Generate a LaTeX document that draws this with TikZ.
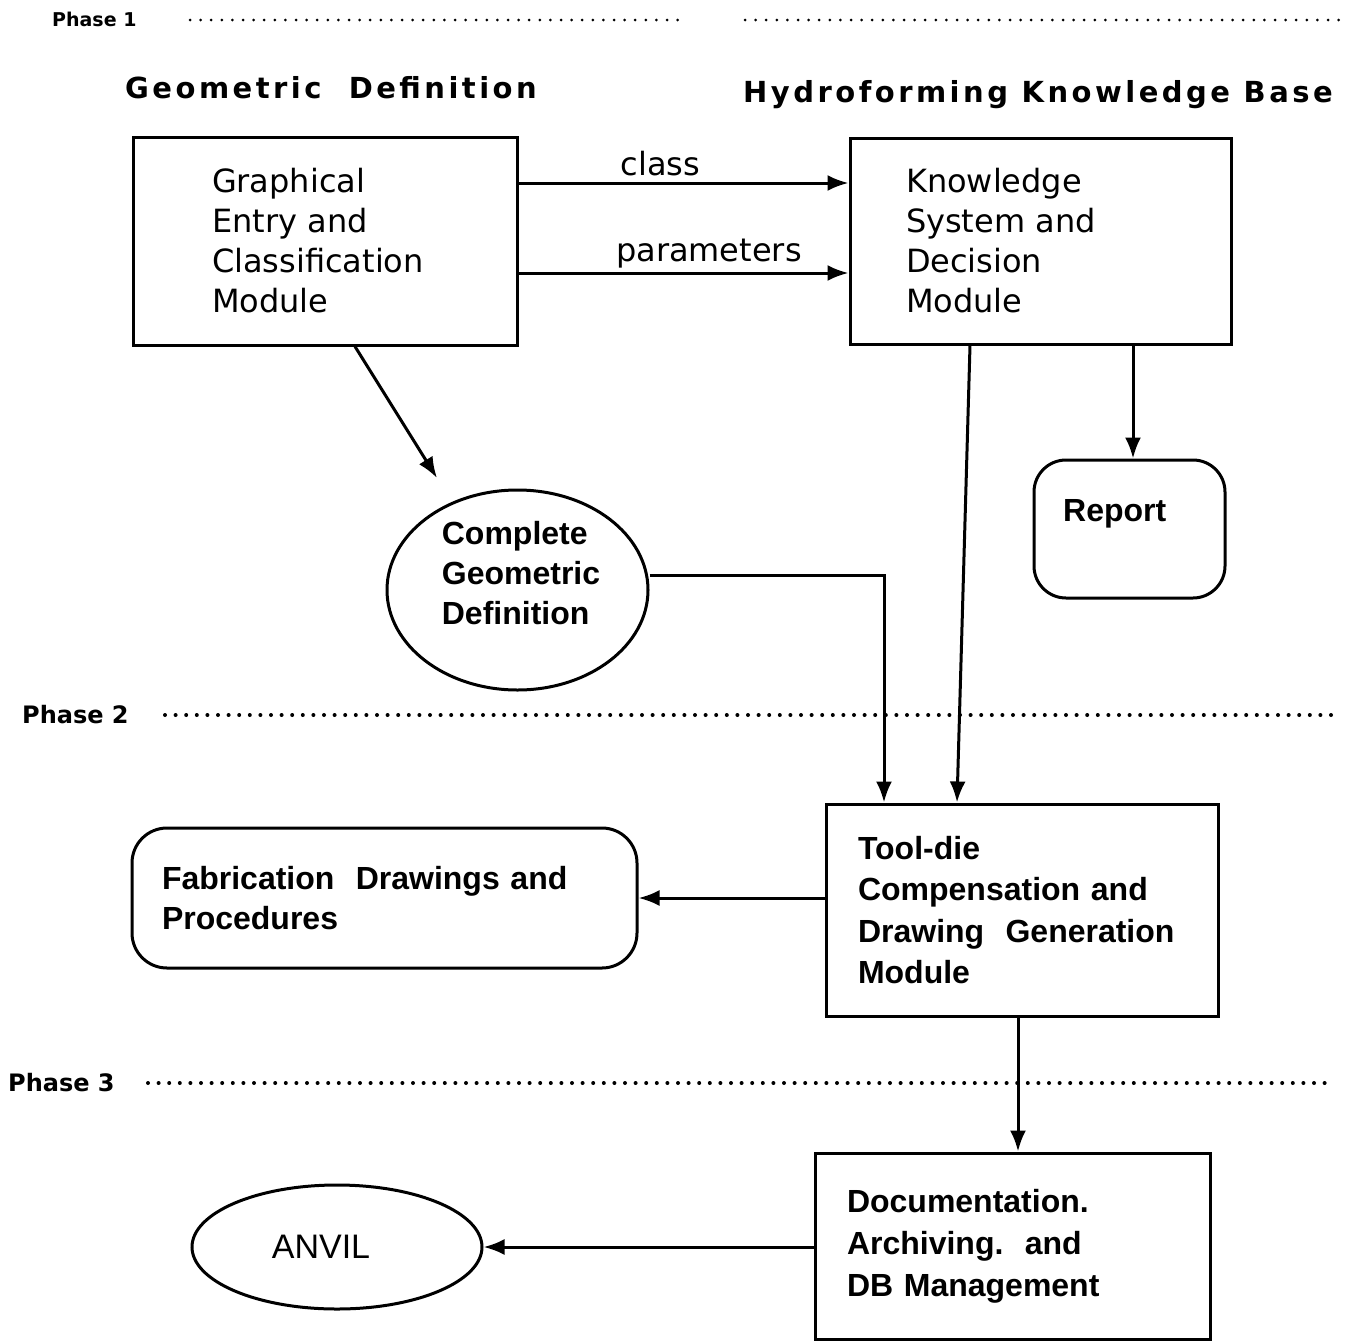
\documentclass[tikz,border=0pt]{standalone}
\usepackage{fontspec}
\setmainfont{Liberation Sans}
\newfontfamily\djv{DejaVu Sans}
\newfontfamily\hdrfont[LetterSpace=12]{DejaVu Sans}
\usetikzlibrary{arrows.meta,shapes.geometric}
\tikzset{
  box/.style={draw, line width=3pt, rectangle, align=left},
  rbox/.style={box, rounded corners=32pt},
  upfont/.style={font=\djv\fontsize{32}{40}\selectfont},
  lowfont/.style={font=\bfseries\fontsize{32}{41.5}\selectfont},
  arr/.style={line width=3pt, -{Latex[length=21pt,width=16pt]}},
  dots/.style={line width=4pt, line cap=round, dash pattern=on 0pt off 10.6pt},
  phase/.style={font=\djv\bfseries\fontsize{24}{24}\selectfont, anchor=base west, inner sep=0pt},
  hdr/.style={font=\hdrfont\bfseries\fontsize{29}{29}\selectfont, anchor=base west, inner sep=0pt},
}
\begin{document}
\begin{tikzpicture}[x=1pt,y=-1pt]
\useasboundingbox (0,0) rectangle (1352,1341);

% phase labels and dotted separators
\node[phase, font=\djv\bfseries\fontsize{19}{19}\selectfont] (p1) at (52,27) {Phase 1};
\node[phase] (p2) at (22,723) {Phase 2};
\node[phase] (p3) at (8,1091) {Phase 3};
\draw[dots, line width=3pt] (190,20) -- (688,20);
\draw[dots, line width=3pt] (745,20) -- (1348,20);
\draw[dots] (165,715) -- (1335,715);
\draw[dots] (148,1083) -- (1325,1083);

% headers
\node[hdr] (h1) at (125,98) {Geometric\ \ Definition};
\node[hdr] (h2) at (743,102) {Hydroforming\ Knowledge\ Base};

% boxes
\node[box, upfont, minimum width=384pt, minimum height=208pt, text width=226pt, inner xsep=79pt] (ge) at (325,241)
  {Graphical\\Entry and\\Classification\\Module};
\node[box, upfont, minimum width=381pt, minimum height=206pt, text width=269pt, inner xsep=56pt] (ks) at (1040.5,241)
  {Knowledge\\System and\\Decision\\Module};
\node[rbox, minimum width=191pt, minimum height=138pt] (report) at (1129.5,529) {};
\node[lowfont, anchor=base west, inner sep=0pt] (reporttxt) at (1063,521) {Report};

\node[draw, ellipse, line width=3pt, minimum width=261pt, minimum height=200pt] (circ) at (517.5,590) {};
\node[lowfont, font=\bfseries\fontsize{32}{40}\selectfont, align=left, inner sep=0pt] (circtxt) at (521,573)
  {Complete\\Geometric\\Definition};

\node[box, lowfont, minimum width=392pt, minimum height=212pt, text width=328pt, inner xsep=32pt] (td) at (1022,910)
  {Tool-die\\Compensation and\\Drawing\ \ Generation\\Module};
\node[rbox, rounded corners=35pt, font=\bfseries\fontsize{32}{40}\selectfont, minimum width=505pt, minimum height=140pt, text width=445pt, inner xsep=30pt] (fab) at (384.5,898)
  {Fabrication\ \ Drawings and\\Procedures};
\node[box, font=\bfseries\fontsize{32}{42}\selectfont, minimum width=395pt, minimum height=186pt, text width=331pt, inner xsep=32pt] (doc) at (1012.5,1246)
  {Documentation.\\Archiving.\ \ and\\DB Management};
\node[draw, ellipse, line width=3pt, minimum width=290pt, minimum height=124pt, font=\fontsize{34}{34}\selectfont] (anvil) at (337,1247) {ANVIL\hspace*{32pt}};

% helper coordinates
\coordinate (c1) at (355,0);
\coordinate (c2) at (970,0);
\coordinate (c3) at (957,0);
\coordinate (c4) at (1133,0);
\coordinate (c5) at (884,0);
\coordinate (c6) at (1018,0);
\coordinate (k1) at (0,183);
\coordinate (k2) at (0,273);
\coordinate (tip) at (437,478);

% connectors
\draw[arr] (ge.east |- k1) -- node[pos=0.43, above=2pt, upfont] (lclass) {class} (ks.west |- k1);
\draw[arr] (ge.east |- k2) -- node[pos=0.577, above=0pt, upfont] (lparam) {parameters} (ks.west |- k2);
\draw[arr] (ge.south -| c1) -- (tip);
\draw[arr] (ks.south -| c4) -- (report.north -| c4);
\draw[arr] (ks.south -| c2) -- (td.north -| c3);
\draw[arr] ([yshift=15pt]circ.east) -| (td.north -| c5);
\draw[arr] (td.west |- fab.east) -- (fab.east);
\draw[arr] (td.south -| c6) -- (doc.north -| c6);
\draw[arr] (doc.west |- anvil.east) -- (anvil.east);
\end{tikzpicture}
\end{document}
